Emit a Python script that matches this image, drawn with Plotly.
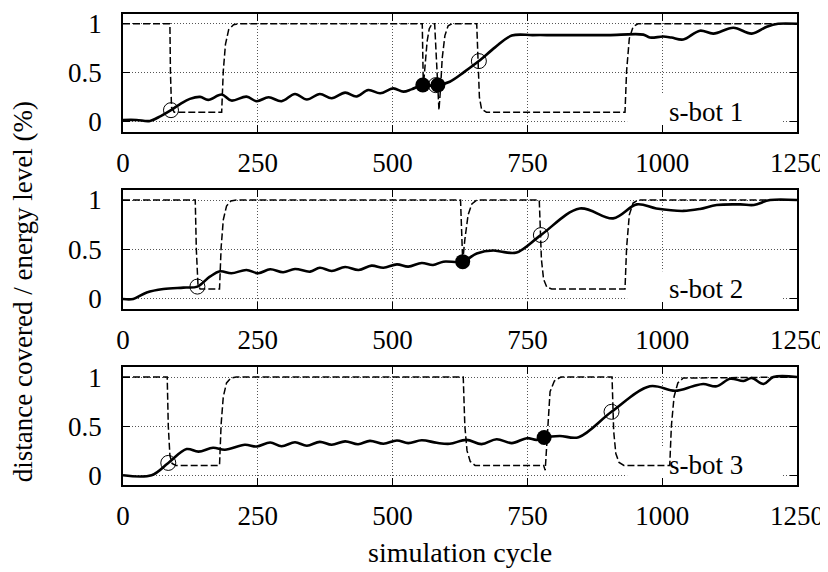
import plotly.graph_objects as go

# s-bot 1
bot1_dist_x = [0, 25, 50, 70, 89, 108, 124, 143, 158, 183, 201, 229, 248, 270, 294, 319, 341, 365, 387,
               412, 433, 455, 477, 501, 520, 535, 556, 570, 584, 606, 633, 660, 690, 721, 760, 800, 850,
               900, 965, 977, 1002, 1017, 1039, 1070, 1095, 1132, 1166, 1194, 1215, 1250]
bot1_dist_y = [0.02, 0.02, 0.01, 0.06, 0.12, 0.19, 0.235, 0.255, 0.225, 0.279, 0.218, 0.258, 0.211, 0.252,
               0.211, 0.285, 0.228, 0.285, 0.242, 0.299, 0.26, 0.326, 0.292, 0.342, 0.309, 0.332, 0.376,
               0.37, 0.376, 0.41, 0.51, 0.62, 0.76, 0.88, 0.885, 0.885, 0.885, 0.885, 0.89, 0.86, 0.87,
               0.86, 0.84, 0.93, 0.9, 0.96, 0.9, 0.97, 1.0, 1.0]
bot1_energy_x = [0, 87, 88, 90, 95, 183, 186, 190, 196, 205, 215, 555, 557, 560, 564, 568, 573, 578, 581,
                 586, 589, 592, 597, 603, 610, 656, 661, 665, 674, 931, 934, 939, 946, 955, 1250]
bot1_energy_y = [1, 1, 0.5, 0.15, 0.1, 0.1, 0.52, 0.79, 0.94, 0.99, 1, 1, 0.36, 0.55, 0.82, 0.95, 1, 1, 0.6,
                 0.12, 0.35, 0.65, 0.88, 0.98, 1, 1, 0.25, 0.13, 0.1, 0.1, 0.52, 0.85, 0.97, 1, 1]
bot1_open_x = [89, 580, 660]
bot1_open_y = [0.12, 0.375, 0.62]
bot1_fill_x = [556, 584]
bot1_fill_y = [0.376, 0.376]

# s-bot 2
bot2_dist_x = [0, 19, 44, 75, 112, 138, 161, 180, 201, 229, 251, 273, 297, 319, 347, 365, 387, 412, 437,
               461, 483, 508, 529, 554, 575, 594, 630, 656, 687, 700, 730, 775, 847, 909, 953, 989, 1039,
               1070, 1101, 1145, 1170, 1200, 1250]
bot2_dist_y = [0, 0, 0.065, 0.1, 0.115, 0.125, 0.225, 0.28, 0.26, 0.293, 0.26, 0.3, 0.27, 0.303, 0.276,
               0.316, 0.283, 0.323, 0.293, 0.337, 0.316, 0.35, 0.327, 0.364, 0.343, 0.377, 0.377, 0.46,
               0.49, 0.48, 0.47, 0.646, 0.915, 0.815, 0.956, 0.915, 0.89, 0.91, 0.95, 0.956, 0.95, 1.0, 1.0]
bot2_energy_x = [0, 134, 136, 139, 143, 179, 182, 186, 192, 200, 210, 626, 630, 634, 640, 647, 656, 772,
                 776, 780, 786, 795, 931, 934, 939, 946, 955, 1250]
bot2_energy_y = [1, 1, 0.5, 0.15, 0.1, 0.1, 0.52, 0.8, 0.94, 0.99, 1, 1, 0.38, 0.6, 0.85, 0.96, 1, 1,
                 0.4, 0.2, 0.12, 0.1, 0.1, 0.52, 0.85, 0.97, 1, 1]
bot2_open_x = [138, 775]
bot2_open_y = [0.125, 0.646]
bot2_fill_x = [630]
bot2_fill_y = [0.377]

# s-bot 3
bot3_dist_x = [0, 53, 84, 118, 140, 167, 189, 226, 248, 273, 294, 319, 341, 365, 387, 412, 436, 458, 483,
               508, 529, 554, 582, 606, 637, 665, 693, 721, 749, 767, 781, 810, 845, 906, 977, 1024, 1057,
               1076, 1101, 1126, 1151, 1166, 1188, 1206, 1250]
bot3_dist_y = [0, 0, 0.125, 0.266, 0.24, 0.28, 0.26, 0.31, 0.293, 0.333, 0.295, 0.335, 0.3, 0.34, 0.31,
               0.345, 0.315, 0.35, 0.32, 0.354, 0.327, 0.356, 0.33, 0.32, 0.36, 0.317, 0.367, 0.327, 0.377,
               0.36, 0.384, 0.4, 0.387, 0.646, 0.906, 0.86, 0.906, 0.93, 0.906, 0.983, 0.96, 0.99, 0.93,
               1.0, 1.0]
bot3_energy_x = [0, 82, 84, 87, 91, 98, 179, 182, 186, 192, 200, 210, 631, 634, 638, 644, 653, 780, 783,
                 786, 788, 792, 800, 812, 907, 910, 914, 920, 929, 1014, 1017, 1022, 1029, 1039, 1250]
bot3_energy_y = [1, 1, 0.5, 0.2, 0.12, 0.1, 0.1, 0.52, 0.8, 0.94, 0.99, 1, 1, 0.5, 0.25, 0.14, 0.1, 0.1,
                 0.05, 0.3, 0.5, 0.85, 0.96, 1, 1, 0.45, 0.22, 0.13, 0.1, 0.1, 0.5, 0.8, 0.94, 0.99, 1]
bot3_open_x = [84, 906]
bot3_open_y = [0.125, 0.646]
bot3_fill_x = [781]
bot3_fill_y = [0.384]

bot_labels = ["s-bot 1", "s-bot 2", "s-bot 3"]
x_ticks = [0, 250, 500, 750, 1000, 1250]
y_ticks = [0, 0.5, 1]
y_tick_text = ["0", "0.5", "1"]

bots = [
    (bot1_dist_x, bot1_dist_y, bot1_energy_x, bot1_energy_y, bot1_open_x, bot1_open_y, bot1_fill_x, bot1_fill_y),
    (bot2_dist_x, bot2_dist_y, bot2_energy_x, bot2_energy_y, bot2_open_x, bot2_open_y, bot2_fill_x, bot2_fill_y),
    (bot3_dist_x, bot3_dist_y, bot3_energy_x, bot3_energy_y, bot3_open_x, bot3_open_y, bot3_fill_x, bot3_fill_y),
]
domains = [[0.75, 1.0], [0.374, 0.626], [0.0, 0.25]]

FONT = "Liberation Serif"
FSIZE = 27
fig = go.Figure()

for i, (dx, dy, ex, ey, ox, oy, fx, fy) in enumerate(bots, start=1):
    xa = "x" if i == 1 else f"x{i}"
    ya = "y" if i == 1 else f"y{i}"
    # energy level (dashed)
    fig.add_trace(go.Scatter(x=ex, y=ey, mode="lines", xaxis=xa, yaxis=ya,
                             line=dict(color="black", width=1.5, dash="7px,3px")))
    # distance covered (solid)
    fig.add_trace(go.Scatter(x=dx, y=dy, mode="lines", xaxis=xa, yaxis=ya,
                             line=dict(color="black", width=2.6, shape="spline", smoothing=1.0)))
    fig.add_trace(go.Scatter(x=ox, y=oy, mode="markers", xaxis=xa, yaxis=ya,
                             marker=dict(symbol="circle-open", size=15, color="black",
                                         line=dict(width=1))))
    fig.add_trace(go.Scatter(x=fx, y=fy, mode="markers", xaxis=xa, yaxis=ya,
                             marker=dict(symbol="circle", size=15, color="black")))

    # key box hides the grid behind the label
    fig.add_shape(type="rect", xref=xa, yref=ya, x0=935, x1=1222, y0=-0.1, y1=0.28,
                  fillcolor="white", line=dict(width=0), layer="between")
    fig.add_annotation(x=1082, y=0.105, xref=xa, yref=ya, text=bot_labels[i - 1],
                       xanchor="center", yanchor="middle", showarrow=False,
                       font=dict(family=FONT, size=FSIZE, color="black"))

    axis_common = dict(showline=True, linecolor="black", linewidth=1.5, mirror="ticks",
                       ticks="inside", ticklen=7, tickwidth=1, tickcolor="black",
                       showgrid=True, gridcolor="#555", gridwidth=1, griddash="1px,2px",
                       zeroline=False)
    fig.update_layout(**{
        ("xaxis" if i == 1 else f"xaxis{i}"): dict(
            anchor=ya, range=[0, 1250], tickvals=x_ticks, ticklabelstandoff=6, **axis_common),
        ("yaxis" if i == 1 else f"yaxis{i}"): dict(
            anchor=xa, domain=domains[i - 1], range=[-0.1, 1.1], tickvals=y_ticks,
            ticktext=y_tick_text, ticklabelstandoff=14, **axis_common),
    })

fig.add_annotation(x=0.5, y=-0.143, xref="paper", yref="paper", text="simulation cycle",
                   xanchor="center", yanchor="middle", showarrow=False,
                   font=dict(family=FONT, size=28, color="black"))
fig.add_annotation(x=-0.148, y=0.41, xref="paper", yref="paper", textangle=-90,
                   text="distance covered / energy level (%)",
                   xanchor="center", yanchor="middle", showarrow=False,
                   font=dict(family=FONT, size=FSIZE, color="black"))

# page body keeps its default 8px margin, so the figure is sized to fit the window
fig.update_layout(
    width=820, height=564,
    margin=dict(l=115, r=31, t=1, b=87),
    showlegend=False,
    plot_bgcolor="white", paper_bgcolor="white",
    font=dict(family=FONT, size=FSIZE, color="black"),
)

fig.write_html("out.html")
